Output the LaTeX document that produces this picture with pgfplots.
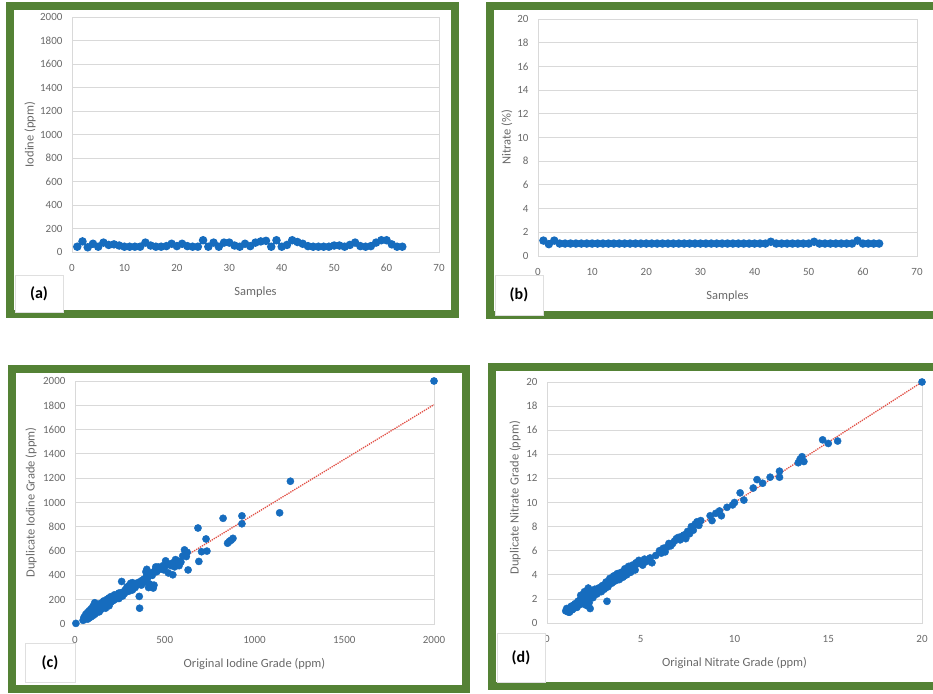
\documentclass[border=0pt]{standalone}
\usepackage{fontspec}
\setmainfont{Carlito}
\usepackage{pgfplots}
\usepackage{pgfplotstable}
\pgfplotsset{compat=1.18}

\definecolor{framegreen}{RGB}{84,130,53}
\definecolor{mblue}{RGB}{22,108,190}
\definecolor{tgray}{RGB}{105,105,105}
\definecolor{ggray}{RGB}{217,217,217}
\definecolor{tred}{RGB}{225,80,70}

\pgfplotstableread{
x y
1 45
2 90
3 40
4 70
5 45
6 80
7 60
8 65
9 55
10 45
11 45
12 45
13 45
14 80
15 55
16 45
17 45
18 50
19 70
20 50
21 70
22 50
23 45
24 45
25 100
26 45
27 80
28 45
29 80
30 80
31 55
32 45
33 70
34 50
35 80
36 90
37 95
38 45
39 100
40 45
41 60
42 100
43 85
44 70
45 50
46 45
47 45
48 45
49 45
50 55
51 55
52 45
53 60
54 80
55 50
56 45
57 50
58 80
59 100
60 100
61 65
62 45
63 45
}\iodine

\pgfplotstableread{
x y
1 1.3
2 1.0
3 1.3
4 1.05
5 1.05
6 1.05
7 1.05
8 1.05
9 1.05
10 1.05
11 1.05
12 1.05
13 1.05
14 1.05
15 1.05
16 1.05
17 1.05
18 1.05
19 1.05
20 1.05
21 1.05
22 1.05
23 1.05
24 1.05
25 1.05
26 1.05
27 1.05
28 1.05
29 1.05
30 1.05
31 1.05
32 1.05
33 1.05
34 1.05
35 1.05
36 1.05
37 1.05
38 1.05
39 1.05
40 1.05
41 1.05
42 1.05
43 1.2
44 1.05
45 1.05
46 1.05
47 1.05
48 1.05
49 1.05
50 1.05
51 1.2
52 1.05
53 1.05
54 1.05
55 1.05
56 1.05
57 1.05
58 1.05
59 1.3
60 1.05
61 1.05
62 1.05
63 1.05
}\nitrate

\pgfplotstableread{
x y
5 5
45 30
50 55
55 40
60 80
62 50
65 60
70 40
70 95
75 65
80 50
80 110
85 75
90 60
90 125
95 85
100 70
100 145
105 100
110 80
110 175
115 120
120 95
120 150
125 110
130 130
135 100
135 165
140 145
145 120
150 130
150 175
155 150
160 140
160 190
165 155
170 130
170 175
175 160
180 165
180 205
185 175
190 150
190 215
195 190
200 180
200 225
205 200
210 190
215 215
220 200
220 240
225 215
230 210
235 240
240 225
245 210
245 255
250 235
255 255
260 240
260 350
265 230
270 265
275 250
280 280
285 265
290 305
295 280
300 270
300 315
305 295
310 335
315 300
320 280
320 340
330 310
335 300
340 330
345 325
350 340
355 330
358 227
360 130
365 350
370 320
375 360
380 340
385 370
390 350
395 430
400 450
400 400
405 380
410 300
415 330
420 310
425 420
430 400
436 296
440 320
445 440
450 470
455 430
460 460
465 470
470 450
480 460
490 480
495 445
500 470
505 520
510 490
520 420
530 490
535 480
540 500
545 405
555 470
560 530
570 520
580 480
590 510
600 560
610 610
615 570
620 555
625 590
630 445
690 515
685 790
705 595
730 700
735 600
825 870
850 665
860 680
870 690
880 705
930 890
930 825
1140 915
1200 1175
2000 2000
}\iodinedup

\pgfplotstableread{
x y
1.0 1.0
1.05 1.2
1.1 1.1
1.15 0.9
1.2 0.9
1.25 1.3
1.3 1.4
1.35 1.1
1.4 1.2
1.45 1.5
1.5 1.6
1.55 1.3
1.6 1.3
1.65 1.8
1.7 1.5
1.75 1.9
1.8 2.3
1.85 1.6
1.9 1.8
1.95 2.1
2.0 2.6
2.05 1.5
2.1 2.0
2.15 2.4
2.2 1.4
2.2 2.9
2.25 1.7
2.3 2.2
2.3 1.2
2.35 2.7
2.4 2.6
2.45 2.1
2.5 2.4
2.55 2.8
2.6 2.7
2.65 2.4
2.7 2.5
2.75 2.9
2.8 2.9
2.85 2.7
2.9 2.6
2.95 3.1
3.0 3.1
3.05 2.8
3.1 2.9
3.15 3.4
3.2 1.8
3.2 3.3
3.25 3.0
3.3 3.2
3.35 3.7
3.4 3.6
3.45 3.3
3.5 3.4
3.55 3.9
3.6 3.9
3.65 3.5
3.7 3.6
3.75 4.1
3.8 4.0
3.85 3.6
3.9 3.7
3.95 4.2
4.0 4.1
4.05 3.8
4.1 3.9
4.15 4.5
4.2 4.4
4.25 4.0
4.3 4.2
4.35 4.7
4.4 4.6
4.45 4.2
4.5 4.3
4.55 4.8
4.6 4.7
4.7 4.4
4.75 5.0
4.8 4.9
4.9 5.2
5.0 5.0
5.1 4.8
5.2 5.3
5.3 5.1
5.4 5.2
5.5 5.4
5.6 5.0
5.8 5.6
6.0 6.0
6.1 5.8
6.2 6.2
6.3 5.9
6.4 6.3
6.5 6.6
6.6 6.4
6.7 6.6
6.8 6.8
6.9 7.0
7.0 7.1
7.1 6.9
7.2 7.2
7.3 7.3
7.4 7.0
7.5 7.6
7.6 7.4
7.7 8.0
7.8 7.7
7.9 8.2
8.0 8.4
8.1 8.1
8.2 8.5
8.7 8.9
8.8 8.5
9.0 9.1
9.2 9.3
9.3 8.9
9.6 9.6
9.9 9.8
10.0 10.0
10.3 10.8
10.5 10.2
11.0 11.2
11.2 11.9
11.5 11.6
11.9 12.1
12.4 12.1
12.4 12.6
13.4 13.3
13.5 13.6
13.6 13.8
13.7 13.4
14.7 15.2
15.0 14.9
15.5 15.1
20 20
}\nitratedup

\pgfplotsset{
  panel/.style={
    scale only axis, clip=false,
    axis line style={ggray},
    ymajorgrids, grid style={ggray, line width=0.8pt},
    major tick length=0pt, tick style={draw=none},
    scaled ticks=false,
    /pgf/number format/1000 sep={},
    /pgf/number format/assume math mode=true,
    ticklabel style={font=\fontsize{11}{13}\selectfont, text=tgray},
    xticklabel style={yshift=-9pt},
    yticklabel style={xshift=-6pt},
    label style={font=\fontsize{12.5}{14}\selectfont, text=tgray},
    x label style={at={(axis description cs:0.5,0)}, anchor=center, yshift=-40pt},
  },
  dots/.style={only marks, mark=*, mark size=3.6pt, color=mblue, mark options={draw=mblue, fill=mblue}},
  series/.style={mark=*, mark size=3.2pt, line width=2pt, color=mblue, mark options={draw=mblue, fill=mblue}},
}

\begin{document}
\begin{tikzpicture}
\useasboundingbox (0pt,0pt) rectangle (933pt,693pt);

% (a)
\begin{axis}[panel, at={(72pt,441pt)}, anchor=south west, width=367pt, height=235pt,
  xmin=0, xmax=70, ymin=0, ymax=2000, xtick={0,10,...,70}, ytick={0,200,...,2000},
  xlabel={Samples}, ylabel={Iodine (ppm)},
  y label style={at={(axis description cs:-0.1144,0.5)}, anchor=center}]
\addplot[series] table[x=x,y=y] {\iodine};
\end{axis}

% (b)
\begin{axis}[panel, at={(538pt,437pt)}, anchor=south west, width=379pt, height=237pt,
  xmin=0, xmax=70, ymin=0, ymax=20, xtick={0,10,...,70}, ytick={0,2,...,20},
  xlabel={Samples}, ylabel={Nitrate (\%)},
  y label style={at={(axis description cs:-0.0818,0.5)}, anchor=center}]
\addplot[series] table[x=x,y=y] {\nitrate};
\end{axis}

% (c)
\begin{axis}[panel, at={(75pt,69pt)}, anchor=south west, width=359pt, height=243pt,
  xmin=0, xmax=2000, ymin=0, ymax=2000, xtick={0,500,...,2000}, ytick={0,200,...,2000},
  xlabel={Original Iodine Grade (ppm)}, ylabel={Duplicate Iodine Grade (ppm)},
  y label style={at={(axis description cs:-0.1226,0.5)}, anchor=center}]
\addplot[dots] table[x=x,y=y] {\iodinedup};
\addplot[tred, densely dotted, line width=1.3pt] coordinates {(40,40) (2000,1805)};
\end{axis}

% (d)
\begin{axis}[panel, at={(547pt,70pt)}, anchor=south west, width=375pt, height=241pt,
  xmin=0, xmax=20, ymin=0, ymax=20, xtick={0,5,...,20}, ytick={0,2,...,20},
  xlabel={Original Nitrate Grade (ppm)}, ylabel={Duplicate Nitrate Grade (ppm)},
  y label style={at={(axis description cs:-0.0853,0.52)}, anchor=center}]
\addplot[dots] table[x=x,y=y] {\nitratedup};
\addplot[tred, densely dotted, line width=1.3pt] coordinates {(1,1) (20,20)};
\end{axis}

% frames
\draw[framegreen, line width=8pt] (9.5pt,379pt) rectangle (454.5pt,687pt);
\draw[framegreen, line width=8pt] (945pt,687pt) -- (490pt,687pt) -- (490pt,378pt) -- (945pt,378pt);
\draw[framegreen, line width=8pt] (11.5pt,4pt) rectangle (466pt,323.5pt);
\draw[framegreen, line width=8pt] (945pt,325.5pt) -- (492pt,325.5pt) -- (492pt,7pt) -- (945pt,7pt);

% panel tags
\tikzset{tag/.style={draw=gray!25, fill=white, line width=0.6pt}}
\draw[tag] (15pt,381pt) rectangle (63pt,418pt);
\node[font=\fontsize{16}{18}\selectfont\bfseries] at (39pt,399pt) {(a)};
\draw[tag] (495pt,378pt) rectangle (543pt,418pt);
\node[font=\fontsize{16}{18}\selectfont\bfseries] at (519pt,398pt) {(b)};
\draw[tag] (25pt,11pt) rectangle (75pt,50pt);
\node[font=\fontsize{16}{18}\selectfont\bfseries] at (50pt,30pt) {(c)};
\draw[tag] (497pt,11pt) rectangle (545pt,60pt);
\node[font=\fontsize{16}{18}\selectfont\bfseries] at (521pt,35pt) {(d)};
\end{tikzpicture}
\end{document}
